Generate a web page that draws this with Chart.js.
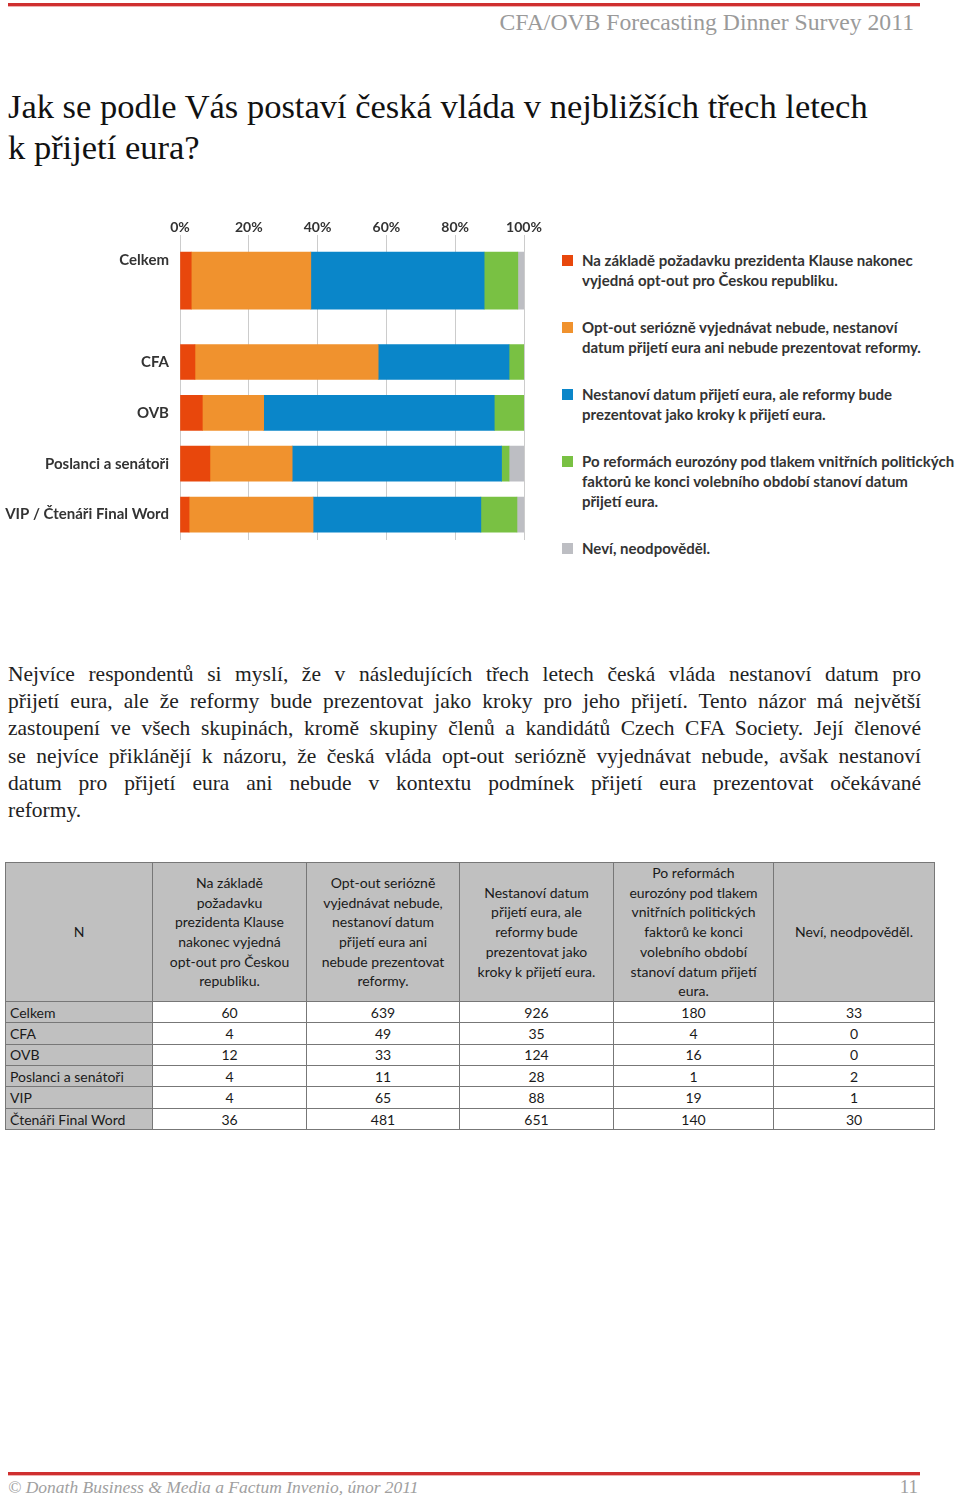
<!DOCTYPE html>
<html lang="cs">
<head>
<meta charset="utf-8">
<title>Přijetí eura</title>
<script src="https://cdn.jsdelivr.net/npm/chart.js@4/dist/chart.umd.min.js"></script>
<style>
  html, body { margin: 0; padding: 0; background: #fff; }
  body { width: 960px; height: 1499px; position: relative; overflow: hidden; }
  .rule { position: absolute; left: 8px; width: 912px; height: 3px; background: #cf2f2f; border-bottom: 1px solid #f0b0b0; }
  #runhead { position: absolute; right: 46px; top: 9px; font-family: 'Liberation Serif', serif; font-size: 23.7px; color: #9a9a9a; }
  #title { position: absolute; left: 8px; top: 86px; font-family: 'Liberation Serif', serif; font-size: 34.5px; line-height: 41px; color: #111; }
  #chartBox { position: absolute; left: 0; top: 210px; width: 560px; height: 350px; }
  #legend { position: absolute; left: 562px; top: 250px; width: 398px; font-family: Lato, 'Open Sans', sans-serif; font-weight: bold; font-size: 15px; line-height: 20px; color: #333; white-space: nowrap; }
  #legend .item { display: flex; margin-bottom: 27px; }
  #legend .box { flex: none; width: 11px; height: 11px; margin: 5px 9px 0 0; }
  #para { position: absolute; left: 8px; top: 661px; width: 913px; font-family: 'Liberation Serif', serif; font-size: 21.5px; line-height: 27.2px; color: #222; }
  #para div { text-align: justify; text-align-last: justify; white-space: nowrap; }
  #para div.last { text-align-last: left; }
  table { position: absolute; left: 5px; top: 862px; border-collapse: collapse; font-family: Lato, 'Open Sans', sans-serif; font-size: 14px; color: #1a1a1a; }
  th, td { border: 1px solid #777; padding: 0 4px; }
  th { background: #c0c0c0; font-weight: normal; line-height: 19.7px; height: 137px; text-align: center; }
  tbody tr { height: 21.4px; }
  tbody td { text-align: center; border-top: 1.5px solid #444; }
  tbody td:first-child { background: #c0c0c0; text-align: left; }
  #foot { position: absolute; left: 8px; top: 1477px; font-family: 'Liberation Serif', serif; font-style: italic; font-size: 17.5px; color: #a0a0a0; }
  #page { position: absolute; right: 42px; top: 1476px; font-family: 'Liberation Serif', serif; font-size: 19px; color: #a0a0a0; }
</style>
</head>
<body>
<div class="rule" style="top:3px"></div>
<div id="runhead">CFA/OVB Forecasting Dinner Survey 2011</div>
<div id="title">Jak se podle Vás postaví česká vláda v nejbližších třech letech<br>k přijetí eura?</div>

<div id="chartBox"><canvas id="chart"></canvas></div>
<div id="legend"></div>

<div id="para">
  <div>Nejvíce respondentů si myslí, že v následujících třech letech česká vláda nestanoví datum pro</div>
  <div>přijetí eura, ale že reformy bude prezentovat jako kroky pro jeho přijetí. Tento názor má největší</div>
  <div>zastoupení ve všech skupinách, kromě skupiny členů a kandidátů Czech CFA Society. Její členové</div>
  <div>se nejvíce přiklánějí k názoru, že česká vláda opt-out seriózně vyjednávat nebude, avšak nestanoví</div>
  <div>datum pro přijetí eura ani nebude v kontextu podmínek přijetí eura prezentovat očekávané</div>
  <div class="last">reformy.</div>
</div>

<table id="tbl">
  <colgroup>
    <col style="width:147px"><col style="width:154px"><col style="width:153px">
    <col style="width:154px"><col style="width:160px"><col style="width:161px">
  </colgroup>
  <thead>
    <tr>
      <th>N</th>
      <th>Na základě<br>požadavku<br>prezidenta Klause<br>nakonec vyjedná<br>opt-out pro Českou<br>republiku.</th>
      <th>Opt-out seriózně<br>vyjednávat nebude,<br>nestanoví datum<br>přijetí eura ani<br>nebude prezentovat<br>reformy.</th>
      <th>Nestanoví datum<br>přijetí eura, ale<br>reformy bude<br>prezentovat jako<br>kroky k přijetí eura.</th>
      <th>Po reformách<br>eurozóny pod tlakem<br>vnitřních politických<br>faktorů ke konci<br>volebního období<br>stanoví datum přijetí<br>eura.</th>
      <th>Neví, neodpověděl.</th>
    </tr>
  </thead>
  <tbody id="tbody"></tbody>
</table>

<div class="rule" style="top:1472px"></div>
<div id="foot">© Donath Business &amp; Media a Factum Invenio, únor 2011</div>
<div id="page">11</div>

<script>
// answer options (legend order), split into the lines shown in the legend
const SERIES_LABELS = [
  ['Na základě požadavku prezidenta Klause nakonec', 'vyjedná opt-out pro Českou republiku.'],
  ['Opt-out seriózně vyjednávat nebude, nestanoví', 'datum přijetí eura ani nebude prezentovat reformy.'],
  ['Nestanoví datum přijetí eura, ale reformy bude', 'prezentovat jako kroky k přijetí eura.'],
  ['Po reformách eurozóny pod tlakem vnitřních politických', 'faktorů ke konci volebního období stanoví datum', 'přijetí eura.'],
  ['Neví, neodpověděl.']
];
const SERIES_COLORS = ['#e8470c', '#f0922e', '#0a86c9', '#79c143', '#bdbec3'];

// respondent groups as in the table
const GROUPS = ['Celkem', 'CFA', 'OVB', 'Poslanci a senátoři', 'VIP', 'Čtenáři Final Word'];

// counts per answer, one value per group
const optOutKlaus   = [60, 4, 12, 4, 4, 36];
const nevyjedna     = [639, 49, 33, 11, 65, 481];
const reformyKroky  = [926, 35, 124, 28, 88, 651];
const poReformach   = [180, 4, 16, 1, 19, 140];
const nevi          = [33, 0, 0, 2, 1, 30];
const COUNTS = [optOutKlaus, nevyjedna, reformyKroky, poReformach, nevi];

// chart rows; VIP and Čtenáři are merged in one bar
const BAR_ROWS = [
  { label: 'CFA', groups: ['CFA'] },
  { label: 'OVB', groups: ['OVB'] },
  { label: 'Poslanci a senátoři', groups: ['Poslanci a senátoři'] },
  { label: 'VIP / Čtenáři Final Word', groups: ['VIP', 'Čtenáři Final Word'] }
];
const X_TICKS = [0, 20, 40, 60, 80, 100];

function rowCounts(groups) {
  return COUNTS.map(arr => groups.reduce((s, g) => s + arr[GROUPS.indexOf(g)], 0));
}
function shares(counts) {
  const total = counts.reduce((a, b) => a + b, 0);
  return counts.map(c => total ? c / total * 100 : 0);
}

const totalShares = shares(rowCounts(['Celkem']));
const rowShares = BAR_ROWS.map(r => shares(rowCounts(r.groups)));

const yLabels = ['Celkem', ''].concat(BAR_ROWS.map(r => r.label));
// helper axis for the wide total bar (second of ten slots)
const totalSlots = ['', 'Celkem', '', '', '', '', '', '', '', ''];
const fontSans = "Lato, 'Open Sans', sans-serif";

const datasets = [];
SERIES_LABELS.forEach((lbl, i) => {
  // total bar sits on its own (hidden) axis so it can be thicker
  datasets.push({
    label: lbl.join(' '),
    data: totalSlots.map(s => s ? totalShares[i] : null),
    backgroundColor: SERIES_COLORS[i],
    yAxisID: 'y2',
    stack: 'total',
    grouped: false,
    barThickness: 57
  });
  datasets.push({
    label: lbl.join(' '),
    data: [null, null].concat(rowShares.map(r => r[i])),
    backgroundColor: SERIES_COLORS[i],
    yAxisID: 'y',
    stack: 'groups',
    grouped: false,
    barThickness: 35
  });
});

new Chart(document.getElementById('chart'), {
  type: 'bar',
  data: { labels: yLabels, datasets },
  options: {
    indexAxis: 'y',
    responsive: true,
    maintainAspectRatio: false,
    animation: false,
    layout: { padding: { top: 10, bottom: 11, left: 0, right: 36 } },
    plugins: { legend: { display: false }, tooltip: { enabled: false } },
    scales: {
      x: {
        type: 'linear',
        position: 'top',
        stacked: true,
        min: 0,
        max: 100,
        z: 1, // gridlines show faintly over the bars
        afterBuildTicks: s => { s.ticks = X_TICKS.map(v => ({ value: v })); },
        ticks: {
          callback: v => v + '%',
          color: '#333',
          padding: -1,
          font: { family: fontSans, size: 14, weight: 'bold' }
        },
        grid: { color: 'rgba(0,0,0,0.2)', drawTicks: false },
        border: { display: false }
      },
      y: {
        type: 'category',
        labels: yLabels,
        stacked: true,
        afterFit: s => { s.width = 180; },
        ticks: {
          color: '#333',
          padding: 11,
          autoSkip: false,
          font: { family: fontSans, size: 15, weight: 'bold' }
        },
        grid: { display: false, drawTicks: false },
        border: { display: false }
      },
      y2: {
        type: 'category',
        labels: totalSlots,
        stacked: true,
        display: false
      }
    }
  }
});

// legend
const legend = document.getElementById('legend');
SERIES_LABELS.forEach((lines, i) => {
  const item = document.createElement('div');
  item.className = 'item';
  item.innerHTML = '<span class="box" style="background:' + SERIES_COLORS[i] + '"></span><span>' + lines.join('<br>') + '</span>';
  legend.appendChild(item);
});

// table body
const tbody = document.getElementById('tbody');
GROUPS.forEach((g, gi) => {
  const tr = document.createElement('tr');
  let html = '<td>' + g + '</td>';
  COUNTS.forEach(arr => { html += '<td>' + arr[gi] + '</td>'; });
  tr.innerHTML = html;
  tbody.appendChild(tr);
});
</script>
</body>
</html>
